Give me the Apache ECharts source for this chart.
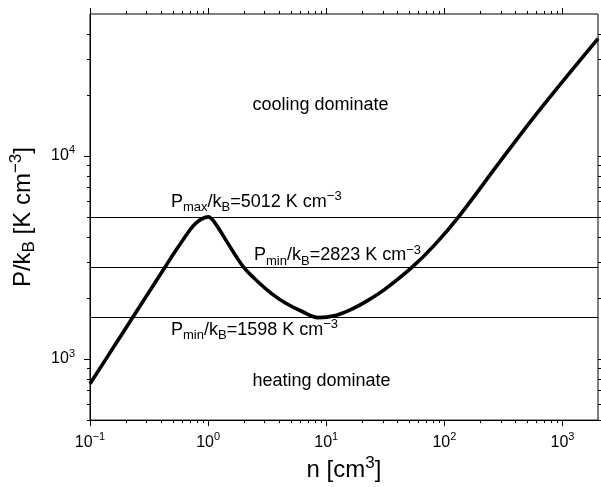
<!DOCTYPE html>
<html>
<head>
<meta charset="utf-8">
<script src="https://cdn.jsdelivr.net/npm/echarts@6/dist/echarts.min.js"></script>
<style>html,body{margin:0;padding:0;background:#fff}#c{width:601px;height:487px}</style>
</head>
<body>
<div id="c"></div>
<script>
// ---- data ----
const density = [0.1, 0.158, 0.231, 0.43, 0.552, 0.738, 0.862, 1.0, 1.13, 1.453, 2.006, 2.683, 3.47, 4.55, 6.2, 8.57, 12.2, 16.3, 22.2, 31.1, 53.1, 82.8, 132, 297, 644, 2000];
const pressure = [755, 1141, 1610, 2823, 3526, 4487, 4856, 5012, 4721, 3752, 2823, 2380, 2092, 1880, 1718, 1598, 1643, 1754, 1933, 2195, 2823, 3648, 5012, 9400, 16900, 37800];
const levels = [5012, 2823, 1598];
const xRange = [0.1, 2000];
const yRange = [500, 50000];
const xExponents = [-1, 0, 1, 2, 3];
const yExponents = [3, 4];
const annotations = [
  {text: '{b|P}{sb|max}{b|/k}{sb|B}{b|=5012 K cm}{sp|\u22123}', x: 171, y: 202, align: 'left'},
  {text: '{b|P}{sb|min}{b|/k}{sb|B}{b|=2823 K cm}{sp|\u22123}', x: 254, y: 255.5, align: 'left'},
  {text: '{b|P}{sb|min}{b|/k}{sb|B}{b|=1598 K cm}{sp|\u22123}', x: 171, y: 330, align: 'left'},
  {text: '{b|cooling dominate}', x: 320.5, y: 105.5, align: 'center'},
  {text: '{b|heating dominate}', x: 321.5, y: 381, align: 'center'}
];

const FONT = '"Liberation Sans", Arial, Helvetica, sans-serif';

// tick positions (major = powers of ten, minor = 2..9 x 10^k) inside the ranges
function tickList(range, isX) {
  const out = [];
  const k0 = Math.floor(Math.log10(range[0])), k1 = Math.ceil(Math.log10(range[1]));
  for (let k = k0; k <= k1; k++) {
    for (let m = 1; m <= 9; m++) {
      const v = m * Math.pow(10, k);
      if (v < range[0] * 0.9999 || v > range[1] * 0.9999) continue;
      out.push(isX ? [v, yRange[0], 0, m === 1 ? 1 : 0] : [xRange[0], v, 1, m === 1 ? 1 : 0]);
    }
  }
  return out;
}
const tickData = tickList(xRange, true).concat(tickList(yRange, false));

function supText(e) { return String(e).replace('-', '\u2212'); }
function makeFormatter(exps) {
  return function (v) {
    const l = Math.log10(v), e = Math.round(l);
    if (Math.abs(l - e) > 1e-6 || exps.indexOf(e) < 0) return '';
    return '{b|10}{sp|' + supText(e) + '}';
  };
}
const tickRich = {
  b: {fontSize: 16, fontFamily: FONT, color: '#000', lineHeight: 22, verticalAlign: 'middle'},
  sp: {fontSize: 11, fontFamily: FONT, color: '#000', lineHeight: 11, verticalAlign: 'top'}
};
const nameRich = {
  b: {fontSize: 24, fontFamily: FONT, color: '#000', lineHeight: 30, verticalAlign: 'middle'},
  sb: {fontSize: 17, fontFamily: FONT, color: '#000', lineHeight: 17, verticalAlign: 'bottom'},
  sp: {fontSize: 17, fontFamily: FONT, color: '#000', lineHeight: 17, verticalAlign: 'top'}
};
const annRich = {
  b: {fontSize: 18, fontFamily: FONT, color: '#000', lineHeight: 24, verticalAlign: 'middle'},
  sb: {fontSize: 13, fontFamily: FONT, color: '#000', lineHeight: 13, verticalAlign: 'bottom'},
  sp: {fontSize: 13, fontFamily: FONT, color: '#000', lineHeight: 13, verticalAlign: 'top'}
};

const chart = echarts.init(document.getElementById('c'), null, {renderer: 'canvas'});
chart.setOption({
  animation: false,
  backgroundColor: '#fff',
  grid: {left: 87, right: 2, top: 14, bottom: 64, show: true, borderColor: '#000', borderWidth: 1, backgroundColor: 'transparent'},
  xAxis: {
    type: 'log', logBase: 10, min: xRange[0], max: xRange[1],
    name: '{b|n [cm}{sp|3}{b|]}', nameLocation: 'middle', nameGap: 32,
    nameTextStyle: {rich: nameRich},
    axisLine: {show: true, lineStyle: {color: '#000', width: 1}},
    axisTick: {show: false}, minorTick: {show: false},
    splitLine: {show: false},
    axisLabel: {margin: 11, formatter: makeFormatter(xExponents), rich: tickRich, showMinLabel: true, showMaxLabel: true}
  },
  yAxis: {
    type: 'log', logBase: 10, min: yRange[0], max: yRange[1],
    name: '{b|P/k}{sb|B}{b| [K cm}{sp|\u22123}{b|]}', nameLocation: 'middle', nameGap: 52,
    nameTextStyle: {rich: nameRich},
    axisLine: {show: true, lineStyle: {color: '#000', width: 1}},
    axisTick: {show: false}, minorTick: {show: false},
    splitLine: {show: false},
    axisLabel: {margin: 15, formatter: makeFormatter(yExponents), rich: tickRich}
  },
  series: [
    {
      type: 'custom', name: 'ticks', clip: false, silent: true, z: 5,
      data: tickData,
      renderItem: function (params, api) {
        const v = [api.value(0), api.value(1)];
        const isY = api.value(2) === 1;
        const len = api.value(3) === 1 ? 6 : 3;
        const st = {stroke: '#000', lineWidth: 1};
        if (!isY) {
          const pb = api.coord([v[0], yRange[0]]);
          const pt = api.coord([v[0], yRange[1]]);
          const x = Math.round(pb[0]) + 0.5;
          return {type: 'group', children: [
            {type: 'line', shape: {x1: x, y1: pb[1], x2: x, y2: pb[1] + len}, style: st},
            {type: 'line', shape: {x1: x, y1: pt[1], x2: x, y2: pt[1] - len}, style: st}
          ]};
        } else {
          const pl = api.coord([xRange[0], v[1]]);
          const pr = api.coord([xRange[1], v[1]]);
          const y = Math.round(pl[1]) + 0.5;
          return {type: 'group', children: [
            {type: 'line', shape: {x1: pl[0], y1: y, x2: pl[0] - len, y2: y}, style: st},
            {type: 'line', shape: {x1: pr[0], y1: y, x2: pr[0] + len, y2: y}, style: st}
          ]};
        }
      }
    },
    {
      type: 'line', name: 'P/kB',
      data: density.map((n, i) => [n, pressure[i]]),
      showSymbol: false, symbol: 'none',
      smooth: 0.35,
      lineStyle: {color: '#000', width: 3.6},
      z: 4,
      markLine: {
        silent: true, symbol: ['none', 'none'],
        label: {show: false},
        lineStyle: {color: '#000', width: 1, type: 'solid'},
        data: levels.map(v => ({yAxis: v}))
      }
    }
  ],
  graphic: annotations.map(a => ({
    type: 'text', x: a.x, y: a.y, z: 10, silent: true,
    style: {text: a.text, rich: annRich, align: a.align, verticalAlign: 'middle', fill: '#000'}
  }))
});
</script>
</body>
</html>
